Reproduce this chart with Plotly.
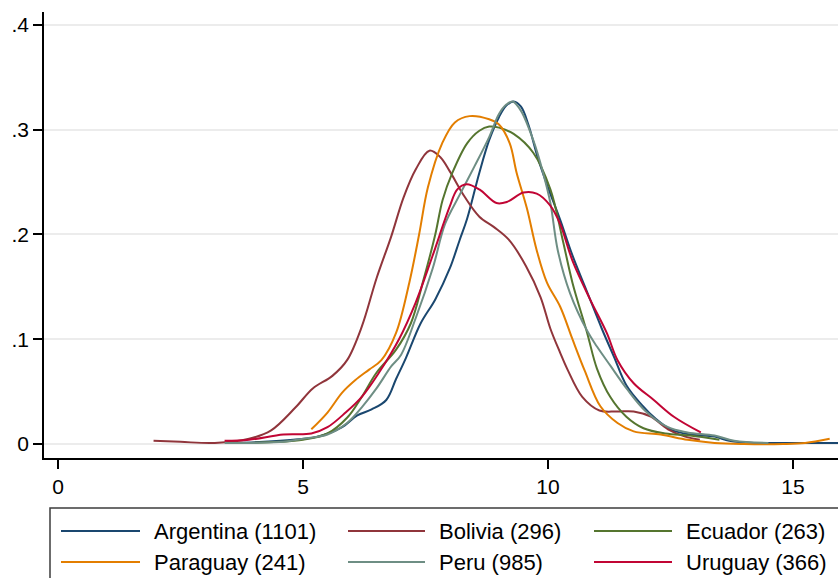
import plotly.graph_objects as go

# Kernel density estimates of the variable, by country
countries = ["Argentina", "Bolivia", "Ecuador", "Paraguay", "Peru", "Uruguay"]
sample_sizes = [1101, 296, 263, 241, 985, 366]
colors = ["#1a476f", "#90353b", "#55752f", "#e37e00", "#6e8e84", "#c10534"]

argentina_x = [3.6, 4.2, 4.8, 5.3, 5.8, 6.1, 6.4, 6.7, 6.9, 7.1, 7.4, 7.7, 8.0, 8.2, 8.35,
               8.6, 8.8, 9.0, 9.15, 9.3, 9.45, 9.6, 9.8, 10.0, 10.25, 10.5, 10.8, 11.1,
               11.35, 11.6, 11.9, 12.2, 12.5, 12.9, 13.4, 13.7, 14.2, 15.0, 16.0]
argentina_y = [0.001, 0.002, 0.004, 0.007, 0.016, 0.027, 0.033, 0.042, 0.062, 0.082, 0.115,
               0.138, 0.168, 0.195, 0.215, 0.259, 0.29, 0.312, 0.323, 0.327, 0.322, 0.305,
               0.272, 0.245, 0.214, 0.18, 0.145, 0.11, 0.083, 0.056, 0.038, 0.024, 0.014,
               0.009, 0.007, 0.003, 0.001, 0.001, 0.001]

bolivia_x = [1.95, 2.5, 3.2, 3.9, 4.35, 4.85, 5.2, 5.6, 5.9, 6.2, 6.5, 6.8, 7.05, 7.3,
             7.58, 7.8, 8.0, 8.3, 8.6, 8.9, 9.2, 9.55, 9.85, 10.05, 10.25, 10.4, 10.7,
             11.05, 11.4, 11.75, 12.1, 12.45, 12.8, 13.1]
bolivia_y = [0.003, 0.002, 0.001, 0.005, 0.013, 0.035, 0.053, 0.065, 0.08, 0.112, 0.158,
             0.198, 0.235, 0.262, 0.28, 0.274, 0.26, 0.236, 0.217, 0.207, 0.195, 0.17,
             0.14, 0.11, 0.087, 0.071, 0.045, 0.032, 0.031, 0.031, 0.026, 0.014, 0.007,
             0.004]

ecuador_x = [3.8, 4.5, 5.0, 5.5, 5.9, 6.2, 6.5, 6.9, 7.2, 7.45, 7.7, 7.85, 8.05, 8.35,
             8.6, 8.8, 9.0, 9.3, 9.7, 10.05, 10.3, 10.5, 10.8, 11.0, 11.27, 11.6, 11.95,
             12.4, 12.9, 13.5]
ecuador_y = [0.001, 0.002, 0.004, 0.01, 0.025, 0.045, 0.068, 0.09, 0.115, 0.155, 0.2,
             0.233, 0.259, 0.287, 0.299, 0.303, 0.302, 0.296, 0.278, 0.243, 0.195, 0.154,
             0.106, 0.072, 0.045, 0.026, 0.015, 0.01, 0.008, 0.004]

paraguay_x = [5.17, 5.5, 5.8, 6.07, 6.35, 6.6, 6.9, 7.17, 7.37, 7.55, 7.84, 8.1, 8.4, 8.8,
              9.0, 9.22, 9.36, 9.57, 9.77, 9.98, 10.25, 10.5, 10.75, 11.07, 11.42, 11.75,
              12.3, 12.85, 13.4, 14.0, 14.8, 15.25, 15.75]
paraguay_y = [0.014, 0.03, 0.049, 0.061, 0.071, 0.08, 0.106, 0.154, 0.2, 0.245, 0.287,
              0.307, 0.313, 0.31, 0.305, 0.287, 0.259, 0.225, 0.185, 0.154, 0.131, 0.1,
              0.07, 0.036, 0.02, 0.012, 0.009, 0.004, 0.001, 0.0, 0.0, 0.001, 0.005]

peru_x = [3.4, 4.0, 4.6, 5.0, 5.5, 5.9, 6.2, 6.5, 6.8, 7.0, 7.3, 7.65, 7.9, 8.2, 8.5, 8.8,
          9.0, 9.15, 9.28, 9.45, 9.7, 9.9, 10.05, 10.2, 10.45, 10.8, 11.0, 11.27, 11.62,
          12.0, 12.45, 12.85, 13.4, 13.8, 14.5]
peru_y = [0.001, 0.001, 0.002, 0.005, 0.009, 0.02, 0.035, 0.053, 0.074, 0.085, 0.12, 0.168,
          0.21, 0.238, 0.265, 0.293, 0.315, 0.324, 0.327, 0.318, 0.29, 0.259, 0.23, 0.185,
          0.144, 0.108, 0.093, 0.075, 0.052, 0.031, 0.016, 0.011, 0.008, 0.003, 0.001]

uruguay_x = [3.4, 3.9, 4.6, 5.17, 5.5, 5.87, 6.2, 6.55, 6.96, 7.3, 7.64, 7.99, 8.15, 8.34,
             8.6, 8.95, 9.16, 9.5, 9.77, 10.04, 10.25, 10.5, 10.86, 11.2, 11.42, 11.75,
             12.16, 12.57, 13.12]
uruguay_y = [0.003, 0.004, 0.009, 0.01, 0.016, 0.03, 0.045, 0.068, 0.1, 0.135, 0.179,
             0.226, 0.243, 0.248, 0.243, 0.23, 0.231, 0.24, 0.239, 0.228, 0.21, 0.175,
             0.138, 0.106, 0.08, 0.058, 0.042, 0.026, 0.011]

x_ticks = [0, 5, 10, 15]
y_ticks = [0, 0.1, 0.2, 0.3, 0.4]
y_tick_labels = ["0", ".1", ".2", ".3", ".4"]

series_x = [argentina_x, bolivia_x, ecuador_x, paraguay_x, peru_x, uruguay_x]
series_y = [argentina_y, bolivia_y, ecuador_y, paraguay_y, peru_y, uruguay_y]

FONT = "Liberation Sans, Arial, sans-serif"
W, H = 838, 578
M_L, M_R, M_T, M_B = 44, 0, 12, 120
PW, PH = W - M_L - M_R, H - M_T - M_B

def px(x):
    return (x - M_L) / PW

def py(y):
    return (H - M_B - y) / PH

fig = go.Figure()
for name, xs, ys, c in zip(countries, series_x, series_y, colors):
    fig.add_trace(go.Scatter(
        x=xs, y=ys, mode="lines", name=name,
        line=dict(color=c, width=2, shape="spline", smoothing=1.0),
        showlegend=False, hoverinfo="skip",
    ))

# Legend box drawn below the plot area
shapes = [dict(type="rect", xref="paper", yref="paper",
               x0=px(50), x1=px(860), y0=py(600), y1=py(508),
               line=dict(color="#3c3c3c", width=1.5), fillcolor="white", layer="above")]
annotations = []
col_line = [(61, 140), (348, 425), (594, 672)]
col_text = [152, 437, 684]
row_y = [531, 562]
for i, (name, n, c) in enumerate(zip(countries, sample_sizes, colors)):
    r, k = divmod(i, 3)
    x0, x1 = col_line[k]
    shapes.append(dict(type="line", xref="paper", yref="paper",
                       x0=px(x0), x1=px(x1), y0=py(row_y[r]), y1=py(row_y[r]),
                       line=dict(color=c, width=2), layer="above"))
    annotations.append(dict(xref="paper", yref="paper", x=px(col_text[k]), y=py(row_y[r]),
                            text=f"{name} ({n})", showarrow=False, xanchor="left",
                            yanchor="middle", font=dict(family=FONT, size=22, color="black")))

fig.update_layout(
    width=W, height=H,
    margin=dict(l=M_L, r=M_R, t=M_T, b=M_B, pad=0),
    paper_bgcolor="white", plot_bgcolor="white",
    font=dict(family=FONT, size=20, color="black"),
    shapes=shapes, annotations=annotations,
    xaxis=dict(range=[-0.286, 15.92], tickvals=x_ticks, showgrid=False, zeroline=False,
               showline=True, linecolor="black", linewidth=1.5,
               ticks="outside", ticklen=9, tickwidth=1.5, tickcolor="black",
               tickfont=dict(family=FONT, size=21, color="black")),
    yaxis=dict(range=[-0.0134, 0.4124], tickvals=y_ticks, ticktext=y_tick_labels,
               showgrid=True, gridcolor="#ececec", gridwidth=1.5, zeroline=False,
               showline=True, linecolor="black", linewidth=1.5,
               ticks="outside", ticklen=9, tickwidth=1.5, tickcolor="black",
               tickfont=dict(family=FONT, size=21, color="black")),
)

fig.write_html("out.html")
